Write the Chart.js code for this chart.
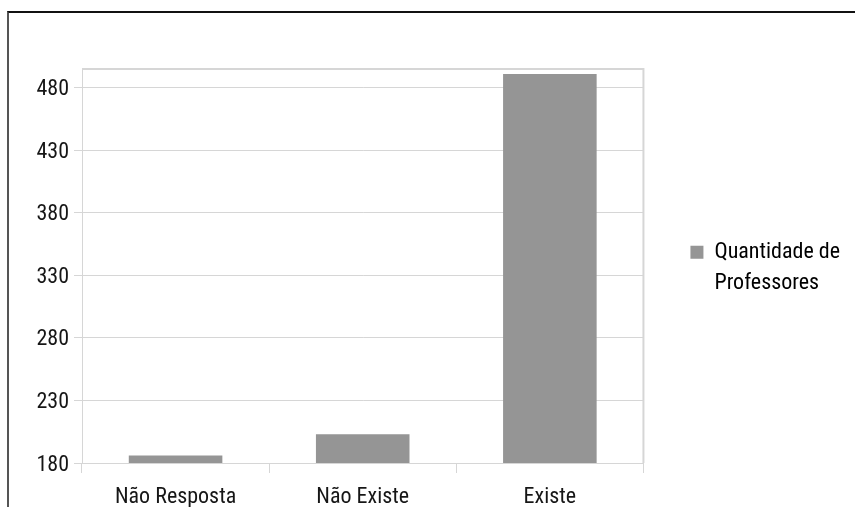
<!DOCTYPE html>
<html>
<head>
<meta charset="utf-8">
<script src="https://cdn.jsdelivr.net/npm/chart.js@4.4.1/dist/chart.umd.min.js"></script>
<style>
  html, body { margin: 0; padding: 0; background: #fff; }
  #wrap { position: relative; width: 855px; height: 507px; overflow: hidden; }
  /* outer frame: only top and left edges are visible */
  #frame { position: absolute; left: 7px; top: 11px; right: -4px; bottom: -4px;
           border-top: 2px solid #111; border-left: 2px solid #555; }
  #chart { position: absolute; left: 0; top: 0; }
</style>
</head>
<body>
<div id="wrap">
  <div id="frame"></div>
  <canvas id="chart" width="855" height="507"></canvas>
</div>
<script>
const categories = ['Não Resposta', 'Não Existe', 'Existe'];
const professores = [186, 203, 491];
const yTicks = [180, 230, 280, 330, 380, 430, 480];
const seriesLabel = ['Quantidade de', 'Professores'];

const BAR = '#959595';
const GRID = '#d6d6d6';
const TEXT = '#161616';
const FONT = "'Roboto Condensed', 'Liberation Sans', sans-serif";

// top and right edges of the plot box
const plotFrame = {
  id: 'plotFrame',
  beforeDatasetsDraw(chart) {
    const { ctx, chartArea: a } = chart;
    ctx.save();
    ctx.strokeStyle = GRID;
    ctx.lineWidth = 2;
    ctx.beginPath();
    ctx.moveTo(a.left, a.top);
    ctx.lineTo(a.right, a.top);
    ctx.lineTo(a.right, a.bottom);
    ctx.stroke();
    ctx.restore();
  }
};

new Chart(document.getElementById('chart').getContext('2d'), {
  type: 'bar',
  data: {
    labels: categories,
    datasets: [{
      label: seriesLabel.join(' '),
      data: professores,
      backgroundColor: BAR,
      borderWidth: 0,
      categoryPercentage: 1,
      barPercentage: 0.5,
    }],
  },
  options: {
    responsive: false,
    animation: false,
    layout: {
      padding: { top: 69, left: 0, right: 5, bottom: 0 },
    },
    scales: {
      x: {
        grid: {
          offset: true,
          drawOnChartArea: false,
          color: GRID,
          tickLength: 10,
        },
        border: { color: GRID },
        ticks: {
          color: TEXT,
          padding: 11,
          font: { family: FONT, size: 22 },
          maxRotation: 0,
        },
        afterFit: (axis) => { axis.height = 44; },
      },
      y: {
        min: 180,
        max: 495,
        grid: { color: GRID, tickLength: 8 },
        border: { color: GRID },
        ticks: {
          color: TEXT,
          padding: 5,
          labelOffset: 2,
          font: { family: FONT, size: 22 },
        },
        afterBuildTicks: (axis) => { axis.ticks = yTicks.map((v) => ({ value: v })); },
        afterFit: (axis) => { axis.width = 82; },
      },
    },
    plugins: {
      tooltip: { enabled: false },
      legend: {
        position: 'right',
        maxWidth: 212,
        labels: {
          color: TEXT,
          boxWidth: 13,
          boxHeight: 13,
          padding: 47,
          font: { family: FONT, size: 22, lineHeight: 1.42 },
          // trailing blank line keeps the two-line entry a little above centre
          generateLabels: () => [{
            text: [...seriesLabel, ''],
            fillStyle: BAR,
            strokeStyle: BAR,
            lineWidth: 0,
            hidden: false,
            datasetIndex: 0,
          }],
        },
      },
    },
  },
  plugins: [plotFrame],
});
</script>
</body>
</html>
